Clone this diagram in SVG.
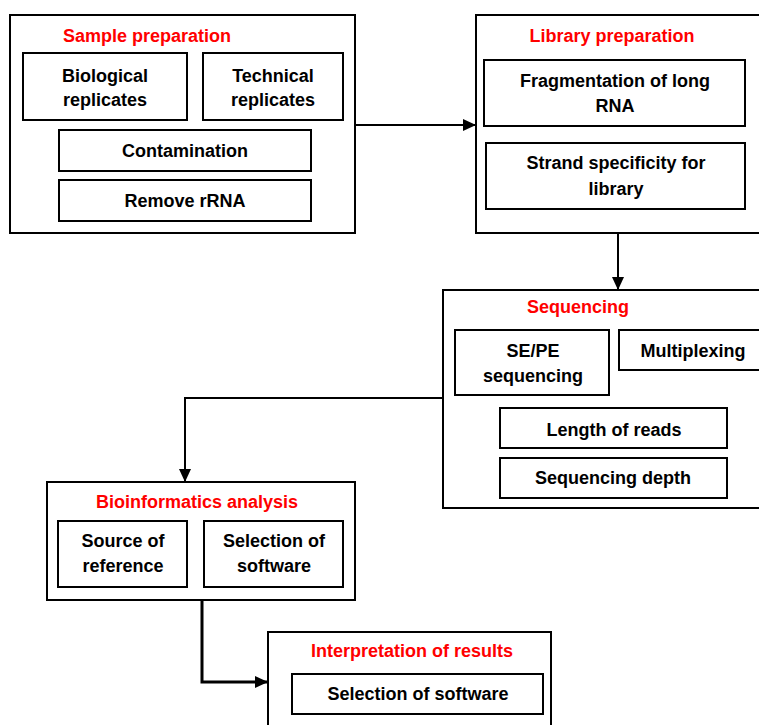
<svg xmlns="http://www.w3.org/2000/svg" width="759" height="725" viewBox="0 0 759 725">
<style>
.box{fill:#fff;stroke:#000;stroke-width:2}
.in{fill:#fff;stroke:#000;stroke-width:2}
text{font-family:"Liberation Sans",Arial,sans-serif;font-weight:bold;font-size:18px;text-anchor:middle;fill:#000}
.t{fill:#ff0000}
.c{fill:none;stroke:#000;stroke-width:2}
</style>
<defs>
<marker id="ah" markerUnits="userSpaceOnUse" markerWidth="14" markerHeight="12" refX="13" refY="6" orient="auto">
<path d="M0,0 L13,6 L0,12 Z" fill="#000"/>
</marker>
</defs>
<rect width="759" height="725" fill="#fff"/>
<g id="sample">
<rect class="box" x="10" y="15" width="345" height="218"/>
<text class="t" x="147" y="42">Sample preparation</text>
<rect class="in" x="23" y="53" width="164" height="67"/>
<text x="105" y="82">Biological</text><text x="105" y="106">replicates</text>
<rect class="in" x="203" y="53" width="140" height="67"/>
<text x="273" y="82">Technical</text><text x="273" y="106">replicates</text>
<rect class="in" x="59" y="130" width="252" height="41"/>
<text x="185" y="157">Contamination</text>
<rect class="in" x="59" y="180" width="252" height="41"/>
<text x="185" y="207">Remove rRNA</text>
</g>
<g id="library">
<rect class="box" x="476" y="15" width="284" height="218"/>
<text class="t" x="612" y="42">Library preparation</text>
<rect class="in" x="484" y="60" width="261" height="66"/>
<text x="615" y="87">Fragmentation of long</text><text x="615" y="112">RNA</text>
<rect class="in" x="486" y="143" width="259" height="66"/>
<text x="616" y="169">Strand specificity for</text><text x="616" y="195">library</text>
</g>
<g id="sequencing">
<rect class="box" x="443" y="290" width="320" height="218"/>
<text class="t" x="578" y="313">Sequencing</text>
<rect class="in" x="455" y="330" width="154" height="65"/>
<text x="533" y="357">SE/PE</text><text x="533" y="382">sequencing</text>
<rect class="in" x="619" y="330" width="145" height="40"/>
<text x="693" y="357">Multiplexing</text>
<rect class="in" x="500" y="408" width="227" height="40"/>
<text x="614" y="436">Length of reads</text>
<rect class="in" x="500" y="458" width="227" height="40"/>
<text x="613" y="484">Sequencing depth</text>
</g>
<g id="bioinformatics">
<rect class="box" x="47" y="482" width="308" height="118"/>
<text class="t" x="197" y="508">Bioinformatics analysis</text>
<rect class="in" x="58" y="521" width="129" height="66"/>
<text x="123" y="547">Source of</text><text x="123" y="572">reference</text>
<rect class="in" x="204" y="521" width="139" height="66"/>
<text x="274" y="547">Selection of</text><text x="274" y="572">software</text>
</g>
<g id="interpretation">
<rect class="box" x="268" y="632" width="283" height="100"/>
<text class="t" x="412" y="657">Interpretation of results</text>
<rect class="in" x="292" y="674" width="251" height="40"/>
<text x="418" y="700">Selection of software</text>
</g>
<g id="connectors">
<path class="c" d="M355,125 H476" marker-end="url(#ah)"/>
<path class="c" d="M618,233 V290" marker-end="url(#ah)"/>
<path class="c" d="M443,398 H185 V482" marker-end="url(#ah)"/>
<path class="c" style="stroke-width:3" d="M202,600 V682 H268" marker-end="url(#ah)"/>
</g>
</svg>
